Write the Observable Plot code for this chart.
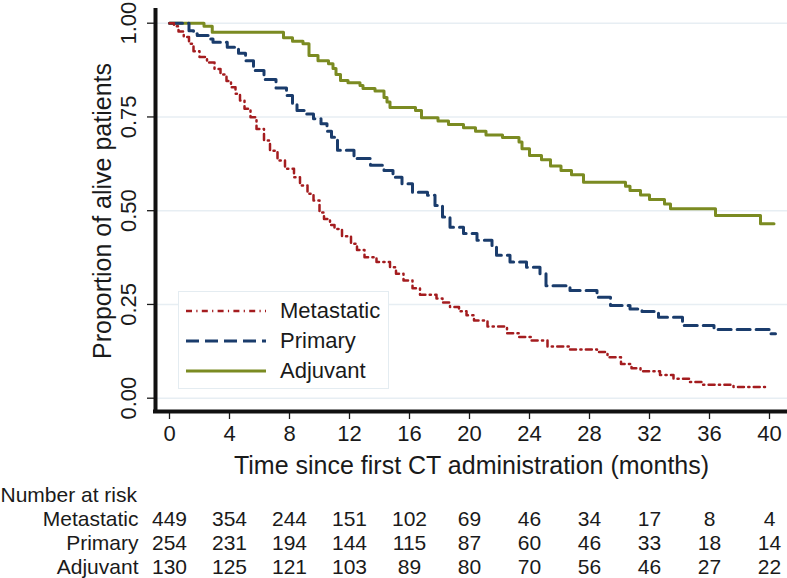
<!DOCTYPE html>
<html>
<head>
<meta charset="utf-8">
<script src="https://cdn.jsdelivr.net/npm/d3@7"></script>
<script src="https://cdn.jsdelivr.net/npm/@observablehq/plot@0.6"></script>
<style>
  html, body { margin: 0; padding: 0; background: #fff; }
  #wrap { position: relative; width: 787px; height: 578px; font-family: "Liberation Sans", Arial, Helvetica, sans-serif; color: #1a1a1a; }
  #wrap svg { display: block; }
  #legend { position: absolute; left: 178px; top: 291px; width: 211px; height: 98px; box-sizing: border-box;
            border: 1.5px solid #e4ecf1; background: #fff; }
  .lrow { position: absolute; left: 0; height: 30px; width: 100%; }
  .lrow svg { position: absolute; left: 7px; top: 0; }
  .lrow span { position: absolute; left: 101px; top: 0; line-height: 30px; font-size: 22px; }
</style>
</head>
<body>
<div id="wrap"></div>
<script>
// ---------- data ----------
const groups = ["Metastatic", "Primary", "Adjuvant"];
const groupColors = ["#a41c1f", "#1a3c6c", "#7b8b22"];

const xTicks = [0, 4, 8, 12, 16, 20, 24, 28, 32, 36, 40];
const yTicks = [0, 0.25, 0.5, 0.75, 1];

const metTime = [0, 0.3, 0.6, 0.95, 1.3, 1.6, 2.0, 2.5, 3.0, 3.4, 3.8, 4.1, 4.4, 4.7, 5.0, 5.4, 5.8, 6.3, 6.7, 7.2, 7.7, 8.3, 8.7, 9.2, 9.6, 10.0, 10.3, 10.7, 11.0, 11.5, 12.1, 12.5, 13.0, 13.8, 14.7, 15.1, 15.6, 16.2, 16.7, 17.8, 18.2, 18.7, 19.3, 19.8, 20.3, 21.2, 22.5, 23.3, 24.1, 25.2, 26.7, 28.5, 29.2, 30.1, 30.8, 31.4, 32.7, 33.6, 34.7, 35.5, 37.6, 39.7];
const metSurv = [1, 0.992, 0.978, 0.963, 0.945, 0.925, 0.910, 0.895, 0.878, 0.863, 0.846, 0.829, 0.812, 0.794, 0.772, 0.749, 0.718, 0.687, 0.660, 0.634, 0.612, 0.589, 0.567, 0.545, 0.527, 0.495, 0.478, 0.462, 0.451, 0.432, 0.412, 0.395, 0.376, 0.363, 0.349, 0.332, 0.314, 0.293, 0.276, 0.266, 0.255, 0.243, 0.232, 0.221, 0.207, 0.191, 0.173, 0.163, 0.154, 0.138, 0.130, 0.123, 0.109, 0.091, 0.080, 0.072, 0.062, 0.052, 0.043, 0.036, 0.030, 0.030];

const priTime = [0, 1.3, 1.6, 1.85, 2.6, 2.9, 3.85, 4.6, 5.07, 5.6, 6.3, 7.1, 7.8, 8.2, 8.5, 9.1, 9.6, 10.1, 10.5, 10.8, 11.2, 12.3, 13.4, 14.3, 14.9, 15.5, 16.2, 17.2, 17.7, 18.2, 18.7, 19.6, 20.5, 21.5, 21.8, 22.7, 23.8, 24.7, 25.1, 26.7, 28.5, 29.4, 30.7, 31.5, 32.6, 34.2, 36.3, 40.0, 40.4];
const priSurv = [1, 0.980, 0.972, 0.967, 0.958, 0.949, 0.936, 0.920, 0.900, 0.874, 0.850, 0.827, 0.807, 0.785, 0.767, 0.758, 0.745, 0.732, 0.712, 0.696, 0.661, 0.639, 0.621, 0.607, 0.589, 0.572, 0.549, 0.541, 0.514, 0.483, 0.456, 0.439, 0.421, 0.407, 0.381, 0.363, 0.349, 0.332, 0.300, 0.287, 0.269, 0.247, 0.238, 0.231, 0.216, 0.194, 0.183, 0.172, 0.172];

const adjTime = [0, 2.3, 2.85, 7.6, 8.2, 8.9, 9.3, 9.9, 10.6, 10.9, 11.1, 11.4, 11.9, 12.7, 12.9, 13.7, 14.3, 14.5, 14.7, 16.4, 16.8, 17.9, 18.6, 19.6, 20.4, 21.1, 22.2, 23.3, 23.5, 24.0, 24.8, 25.4, 26.1, 26.8, 27.6, 30.4, 30.7, 31.4, 32.0, 33.0, 33.4, 36.4, 39.4, 40.3];
const adjSurv = [1, 0.992, 0.976, 0.961, 0.952, 0.945, 0.914, 0.900, 0.892, 0.879, 0.863, 0.847, 0.841, 0.834, 0.826, 0.819, 0.802, 0.790, 0.775, 0.767, 0.748, 0.739, 0.730, 0.721, 0.712, 0.702, 0.695, 0.683, 0.665, 0.647, 0.636, 0.619, 0.607, 0.596, 0.576, 0.565, 0.554, 0.542, 0.530, 0.518, 0.505, 0.487, 0.465, 0.465];

const riskTimes = [0, 4, 8, 12, 16, 20, 24, 28, 32, 36, 40];
const riskMetastatic = [449, 354, 244, 151, 102, 69, 46, 34, 17, 8, 4];
const riskPrimary = [254, 231, 194, 144, 115, 87, 60, 46, 33, 18, 14];
const riskAdjuvant = [130, 125, 121, 103, 89, 80, 70, 56, 46, 27, 22];

const xLabel = "Time since first CT administration (months)";
const yLabel = "Proportion of alive patients";
const riskTitle = "Number at risk";

// ---------- tables built from the arrays ----------
const toRows = (g, T, S) => T.map((t, i) => ({group: g, t, s: S[i]}));
const metRows = toRows("Metastatic", metTime, metSurv);
const priRows = toRows("Primary", priTime, priSurv);
const adjRows = toRows("Adjuvant", adjTime, adjSurv);

const riskRows = [];
[riskMetastatic, riskPrimary, riskAdjuvant].forEach((arr, gi) =>
  arr.forEach((n, i) => riskRows.push({group: groups[gi], t: riskTimes[i], n})));

const xDomain = [-14 / 15, 618 / 15];
const yDomain = [-13.3 / 375, 1 + 12.7 / 375];
const font = "'Liberation Sans', Arial, Helvetica, sans-serif";

const main = Plot.plot({
  width: 787,
  height: 480,
  marginLeft: 155,
  marginRight: 0,
  marginTop: 10,
  marginBottom: 69,
  style: {fontFamily: font, fontSize: "22px", color: "#1a1a1a", background: "#fff", overflow: "visible"},
  x: {domain: xDomain},
  y: {domain: yDomain},
  marks: [
    Plot.gridY(yTicks, {stroke: "#e7eef3", strokeOpacity: 1, strokeWidth: 1.5}),
    Plot.line(adjRows, {x: "t", y: "s", curve: "step-after", stroke: groupColors[2], strokeWidth: 3}),
    Plot.line(priRows, {x: "t", y: "s", curve: "step-after", stroke: groupColors[1], strokeWidth: 3, strokeDasharray: "13,6"}),
    Plot.line(metRows, {x: "t", y: "s", curve: "step-after", stroke: groupColors[0], strokeWidth: 2.5, strokeDasharray: "6,4.3,1.2,4.3"}),
    Plot.axisY(yTicks, {tickSize: 8, tickPadding: 12, tickRotate: -90, tickFormat: d3.format(".2f"),
      stroke: "#1a1a1a", strokeWidth: 1.3, fill: "#1a1a1a", fontSize: 22, label: null}),
    Plot.axisX(xTicks, {tickSize: 8, tickPadding: 6, tickFormat: d => String(d),
      stroke: "#1a1a1a", strokeWidth: 1.3, fill: "#1a1a1a", fontSize: 22, label: null}),
    Plot.ruleX([xDomain[0]], {stroke: "#111", strokeWidth: 4, strokeLinecap: "square"}),
    Plot.ruleY([yDomain[0]], {stroke: "#111", strokeWidth: 4, strokeLinecap: "square"}),
    Plot.text([xLabel], {frameAnchor: "bottom", dy: 62, lineAnchor: "bottom", textAnchor: "middle", fontSize: 25, fill: "#1a1a1a"}),
    Plot.text([yLabel], {frameAnchor: "left", dx: -45, rotate: -90, lineAnchor: "bottom", textAnchor: "middle", fontSize: 25, fill: "#1a1a1a"})
  ]
});

const rowOrder = [riskTitle, ...groups];
const table = Plot.plot({
  width: 787,
  height: 98,
  marginLeft: 155,
  marginRight: 0,
  marginTop: 20,
  marginBottom: 5,
  style: {fontFamily: font, fontSize: "21px", color: "#1a1a1a", background: "#fff", overflow: "visible"},
  x: {domain: xDomain, axis: null},
  y: {type: "point", domain: rowOrder, padding: 0, axis: null},
  marks: [
    Plot.text(riskRows, {x: "t", y: "group", text: d => String(d.n), lineAnchor: "bottom", fontSize: 21, fill: "#1a1a1a"}),
    Plot.text(groups, {y: d => d, text: d => d, frameAnchor: "left", dx: -17, textAnchor: "end", lineAnchor: "bottom", fontSize: 21, fill: "#1a1a1a"}),
    Plot.text([riskTitle], {y: d => d, text: d => d, frameAnchor: "left", dx: -155, textAnchor: "start", lineAnchor: "bottom", fontSize: 21, fill: "#1a1a1a"})
  ]
});

const wrap = document.getElementById("wrap");
wrap.appendChild(main);
wrap.appendChild(table);

// legend (inside the plot area, as in the reference)
const legend = document.createElement("div");
legend.id = "legend";
const dashes = ["6,4.3,1.2,4.3", "13,6", null];
const widths = [2.5, 3, 3];
groups.forEach((g, i) => {
  const row = document.createElement("div");
  row.className = "lrow";
  row.style.top = (4 + i * 30) + "px";
  const ns = "http://www.w3.org/2000/svg";
  const s = document.createElementNS(ns, "svg");
  s.setAttribute("width", "82"); s.setAttribute("height", "30");
  const l = document.createElementNS(ns, "line");
  l.setAttribute("x1", "0"); l.setAttribute("x2", "80");
  l.setAttribute("y1", "15"); l.setAttribute("y2", "15");
  l.setAttribute("stroke", groupColors[i]);
  l.setAttribute("stroke-width", widths[i]);
  if (dashes[i]) l.setAttribute("stroke-dasharray", dashes[i]);
  s.appendChild(l);
  const t = document.createElement("span");
  t.textContent = g;
  row.appendChild(s); row.appendChild(t);
  legend.appendChild(row);
});
wrap.appendChild(legend);
</script>
</body>
</html>
